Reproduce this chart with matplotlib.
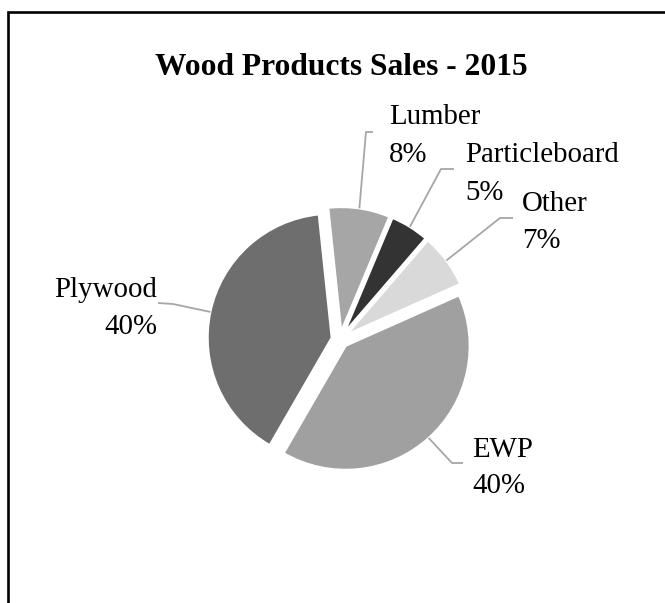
import numpy as np
import matplotlib
matplotlib.use("Agg")
import matplotlib.pyplot as plt

# Sales share by product line (percent), clockwise from the top
categories = ["Lumber", "Particleboard", "Other", "EWP", "Plywood"]
shares = [8, 5, 7, 40, 40]
colors = ["#a6a6a6", "#333333", "#d9d9d9", "#a0a0a0", "#6e6e6e"]
title = "Wood Products Sales - 2015"

W, H = 665, 603

# label layout in pixel coords (y measured from the top):
# text x, name baseline, percent baseline, alignment, elbow point, end point
label_layout = {
    "Lumber":        (389, 124, 161.5, "left",  (366, 132), (373, 132)),
    "Particleboard": (465, 162, 200,   "left",  (441, 169), (454, 169)),
    "Other":         (522, 211, 248,   "left",  (500, 218), (513, 218)),
    "EWP":           (472, 457, 493,   "left",  (452, 463), (463, 463)),
    "Plywood":       (157, 297, 334,   "right", (173, 304), (158, 303)),
}

SERIF = ["Liberation Serif", "DejaVu Serif"]
LEADER = "#a6a6a6"


def flip(y):
    return H - y


fig = plt.figure(figsize=(W / 100, H / 100), dpi=100)
ax = fig.add_axes([0, 0, 1, 1])

# explode is in data units here (pixels), same gap for every slice
wedges, _ = ax.pie(
    shares,
    colors=colors,
    startangle=96,
    counterclock=False,
    explode=[8.5] * len(shares),
    radius=124,
    center=(340, flip(339.5)),
    wedgeprops=dict(edgecolor="white", linewidth=1.5),
)
ax.set_xlim(0, W)
ax.set_ylim(0, H)
ax.set_aspect("equal")
ax.axis("off")

for w, name, val in zip(wedges, categories, shares):
    tx, b1, b2, align, elbow, end = label_layout[name]
    mid = np.deg2rad((w.theta1 + w.theta2) / 2)
    sx = w.center[0] + w.r * np.cos(mid)
    sy = w.center[1] + w.r * np.sin(mid)
    ax.plot([sx, elbow[0], end[0]], [sy, flip(elbow[1]), flip(end[1])],
            color=LEADER, lw=1.3, solid_capstyle="butt")
    ax.text(tx, flip(b1), name, ha=align, va="baseline",
            fontsize=20.8, family=SERIF, color="black")
    ax.text(tx, flip(b2), f"{val}%", ha=align, va="baseline",
            fontsize=20.8, family=SERIF, color="black")

ax.text(341, flip(75), title, ha="center", va="baseline",
        fontsize=22.7, fontweight="bold", family=SERIF, color="black")

# chart border (left and top edges)
ax.plot([8, 8, W], [0, flip(12), flip(12)], color="black", lw=1.9,
        clip_on=False, solid_joinstyle="miter")

fig.savefig("out.png", dpi=100)
